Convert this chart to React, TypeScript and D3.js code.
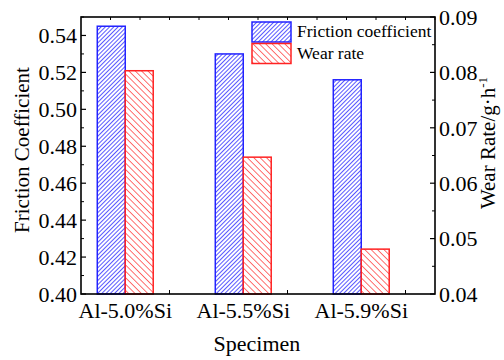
import React from "react";
import * as d3 from "d3";

const categories = ["Al-5.0%Si", "Al-5.5%Si", "Al-5.9%Si"];
const frictionValues = [0.545, 0.53, 0.516];
const wearValues = [0.0803, 0.0647, 0.0481];
const leftTicks = [0.4, 0.42, 0.44, 0.46, 0.48, 0.5, 0.52, 0.54];
const rightTicks = [0.04, 0.05, 0.06, 0.07, 0.08, 0.09];
const seriesNames = ["Friction coefficient", "Wear rate"];

const W = 504;
const H = 360;
const left = 81;
const right = 435;
const top = 17;
const bottom = 294;
const font = "Liberation Serif, Times New Roman, serif";

export default function App() {
  // categories sit at integer positions on a linear scale
  const x = d3.scaleLinear().domain([-0.375, 2.625]).range([left, right]);
  const yL = d3.scaleLinear().domain([0.4, 0.55]).range([bottom, top]);
  const yR = d3.scaleLinear().domain([0.04, 0.09]).range([bottom, top]);
  const barW = 0.237;

  const topTicks = d3.range(-0.125, 2.63, 0.25);
  const botTicks = [0.375, 1.375, 2.375];
  const leftMinor = d3.range(0.41, 0.55, 0.02);
  const rightMinor = d3.range(0.045, 0.09, 0.01);

  return (
    <svg
      width={W}
      height={H}
      style={{ position: "absolute", left: 0, top: 0, background: "#fff", fontFamily: font }}
    >
      <defs>
        <pattern id="hatchBlue" width="3" height="3" patternUnits="userSpaceOnUse" patternTransform="rotate(45)">
          <rect width="3" height="3" fill="#fff" />
          <line x1="0" y1="0" x2="0" y2="3" stroke="#1010ff" strokeWidth="1.4" />
        </pattern>
        <pattern id="hatchRed" width="4.5" height="4.5" patternUnits="userSpaceOnUse" patternTransform="rotate(-45)">
          <rect width="4.5" height="4.5" fill="#fff" />
          <line x1="0" y1="0" x2="0" y2="4.5" stroke="#ff1010" strokeWidth="1.2" />
        </pattern>
      </defs>

      {categories.map((c, i) => (
        <g key={c}>
          <rect
            x={x(i - barW)}
            y={yL(frictionValues[i])}
            width={x(i) - x(i - barW)}
            height={bottom - yL(frictionValues[i])}
            fill="url(#hatchBlue)"
            stroke="#2222ff"
            strokeWidth={1.5}
          />
          <rect
            x={x(i)}
            y={yR(wearValues[i])}
            width={x(i + barW) - x(i)}
            height={bottom - yR(wearValues[i])}
            fill="url(#hatchRed)"
            stroke="#ff2222"
            strokeWidth={1.5}
          />
        </g>
      ))}

      <rect x={left} y={top} width={right - left} height={bottom - top} fill="none" stroke="#000" strokeWidth={1.6} />

      {topTicks.map((t) => (
        <line key={"tt" + t} x1={x(t)} x2={x(t)} y1={top} y2={top + 3} stroke="#000" strokeWidth={1} />
      ))}
      {botTicks.map((t) => (
        <line key={"bt" + t} x1={x(t)} x2={x(t)} y1={bottom} y2={bottom - 4} stroke="#000" strokeWidth={1} />
      ))}

      {leftTicks.map((t) => (
        <g key={"l" + t}>
          <line x1={left} x2={left + 5} y1={yL(t)} y2={yL(t)} stroke="#000" strokeWidth={1.2} />
          <text x={left - 4} y={yL(t)} dy="0.35em" textAnchor="end" fontSize={22}>
            {t.toFixed(2)}
          </text>
        </g>
      ))}
      {leftMinor.map((t) => (
        <line key={"lm" + t} x1={left} x2={left + 3} y1={yL(t)} y2={yL(t)} stroke="#000" strokeWidth={1} />
      ))}

      {rightTicks.map((t) => (
        <g key={"r" + t}>
          <line x1={right} x2={right - 5} y1={yR(t)} y2={yR(t)} stroke="#000" strokeWidth={1.2} />
          <text x={right + 4} y={yR(t)} dy="0.35em" textAnchor="start" fontSize={22}>
            {t.toFixed(2)}
          </text>
        </g>
      ))}
      {rightMinor.map((t) => (
        <line key={"rm" + t} x1={right} x2={right - 3} y1={yR(t)} y2={yR(t)} stroke="#000" strokeWidth={1} />
      ))}

      {categories.map((c, i) => (
        <text key={"c" + c} x={x(i)} y={318} textAnchor="middle" fontSize={22}>
          {c}
        </text>
      ))}

      <text x={257} y={351} textAnchor="middle" fontSize={22}>
        Specimen
      </text>
      <text transform="translate(29,150) rotate(-90)" textAnchor="middle" fontSize={21}>
        Friction Coefficient
      </text>
      <text transform="translate(495,143) rotate(-90)" textAnchor="middle" fontSize={21}>
        Wear Rate/g·h
        <tspan dy="-8" fontSize={13}>-1</tspan>
      </text>

      {seriesNames.map((s, i) => (
        <g key={s} transform={`translate(252,${22 + i * 21.5})`}>
          <rect width={39} height={20} fill={i === 0 ? "url(#hatchBlue)" : "url(#hatchRed)"} stroke={i === 0 ? "#2222ff" : "#ff2222"} strokeWidth={1.5} />
          <text x={45} y={15} fontSize={17.5}>
            {s}
          </text>
        </g>
      ))}
    </svg>
  );
}
